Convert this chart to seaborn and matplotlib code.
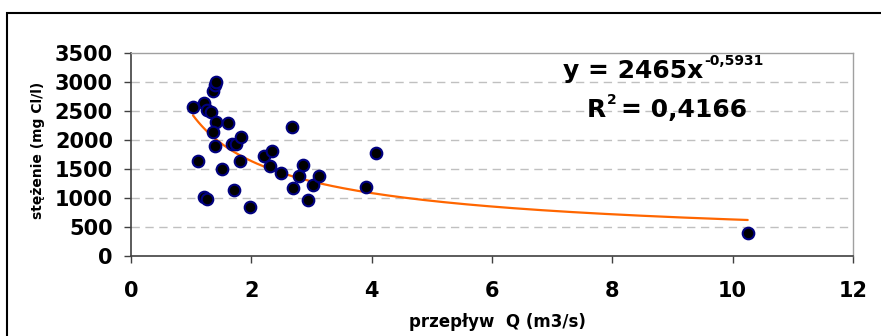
import numpy as np
import pandas as pd
import matplotlib
matplotlib.use('Agg')
import matplotlib.pyplot as plt
from matplotlib.patches import Rectangle
import seaborn as sns

# Data
przeplyw = [1.03, 1.22, 1.26, 1.33, 1.355, 1.39, 1.42, 1.42, 1.36, 1.62,
            1.39, 1.12, 1.52, 1.22, 1.26, 1.71, 1.98, 1.68, 1.75, 1.82,
            1.81, 2.21, 2.34, 2.31, 2.67, 2.50, 2.70, 2.80, 2.86, 2.94,
            3.02, 3.12, 3.91, 4.07, 10.25]
stezenie = [2560, 2630, 2510, 2480, 2840, 2950, 2990, 2310, 2140, 2290,
            1900, 1640, 1490, 1010, 985, 1135, 840, 1925, 1935, 2050,
            1640, 1720, 1810, 1550, 2220, 1425, 1170, 1380, 1570, 960,
            1220, 1370, 1190, 1780, 390]

# Power trendline coefficients as printed on the chart
trend_a = 2465
trend_b = -0.5931
trend_r2 = 0.4166

df = pd.DataFrame({'Q': przeplyw, 'C': stezenie})

sns.set_style('white')
plt.rcParams['font.family'] = ['DejaVu Sans']
plt.rcParams['font.weight'] = 'bold'
plt.rcParams['text.color'] = 'black'
plt.rcParams['xtick.color'] = 'black'
plt.rcParams['ytick.color'] = 'black'

W, H = 881, 336
fig = plt.figure(figsize=(W / 100, H / 100), dpi=100)
ax = fig.add_axes([131 / W, 1 - 256 / H, (853 - 131) / W, (256 - 52.7) / H])

# trendline
xt = np.linspace(min(przeplyw), max(przeplyw), 200)
trend = pd.DataFrame({'Q': xt, 'C': trend_a * xt ** trend_b})

for yv in range(500, 3500, 500):
    ax.axhline(yv, color='#c0c0c0', lw=1, ls=(0, (6, 4)), zorder=0)

sns.scatterplot(data=df, x='Q', y='C', ax=ax, color='black', edgecolor='#000080',
                linewidth=1.5, s=70, zorder=3, legend=False)
sns.lineplot(data=trend, x='Q', y='C', ax=ax, color='#ff6600', lw=1.6, zorder=2)

ax.set_xlim(0, 12)
ax.set_ylim(0, 3500)
ax.set_xticks(range(0, 13, 2))
ax.set_yticks(range(0, 3501, 500))
ax.set_xlabel('')
ax.set_ylabel('')
ax.tick_params(axis='both', direction='out', length=5, width=1, color='#404040',
               labelsize=15, labelcolor='black')
ax.tick_params(axis='y', pad=8, left=True)
ax.tick_params(axis='x', pad=13, bottom=True)
for lab in ax.get_xticklabels() + ax.get_yticklabels():
    lab.set_fontweight('bold')

for side in ['top', 'right']:
    ax.spines[side].set_color('#a0a0a0')
    ax.spines[side].set_linewidth(1)
for side in ['left', 'bottom']:
    ax.spines[side].set_color('#404040')
    ax.spines[side].set_linewidth(1.2)

# axis titles
fig.text(38 / W, 1 - 150 / H, 'stężenie (mg Cl/l)', rotation=90, ha='center',
         va='center', fontsize=10, fontweight='bold')
fig.text(497 / W, 1 - 322 / H, 'przepływ  Q (m3/s)', ha='center', va='center',
         fontsize=12, fontweight='bold')

# equation and R2
fig.text(563 / W, 1 - 78 / H, f'y = {trend_a}x', ha='left', va='baseline',
         fontsize=18, fontweight='bold')
fig.text(704 / W, 1 - 65 / H, f'{trend_b}'.replace('.', ','), ha='left', va='baseline',
         fontsize=10, fontweight='bold')
fig.text(587 / W, 1 - 117 / H, 'R', ha='left', va='baseline',
         fontsize=18, fontweight='bold')
fig.text(607 / W, 1 - 104 / H, '2', ha='left', va='baseline',
         fontsize=10, fontweight='bold')
fig.text(621 / W, 1 - 117 / H, f'= {trend_r2}'.replace('.', ','), ha='left',
         va='baseline', fontsize=18, fontweight='bold')

# outer chart frame
fig.patches.append(Rectangle((7 / W, -0.1), 1.2, 1 - 13 / H + 0.1,
                             transform=fig.transFigure, fill=False,
                             edgecolor='black', lw=1.5))

fig.savefig('out.png', dpi=100)
